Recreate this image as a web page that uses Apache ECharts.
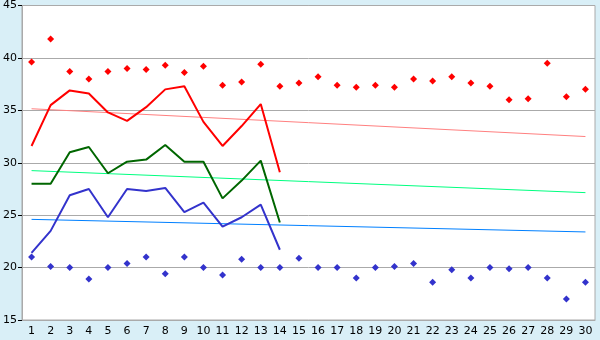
<!DOCTYPE html>
<html><head><meta charset="utf-8">
<script src="https://cdn.jsdelivr.net/npm/echarts@6/dist/echarts.min.js"></script>
<style>html,body{margin:0;padding:0;background:#d9eff7;}#c{width:600px;height:340px;}</style>
</head><body><div id="c"></div>
<script>
const days = ['1','2','3','4','5','6','7','8','9','10','11','12','13','14','15','16','17','18','19','20','21','22','23','24','25','26','27','28','29','30'];
const maxPoints = [39.6,41.8,38.7,38.0,38.7,39.0,38.9,39.3,38.6,39.2,37.4,37.7,39.4,37.3,37.6,38.2,37.4,37.2,37.4,37.2,38.0,37.8,38.2,37.6,37.3,36.0,36.1,39.5,36.3,37.0];
const minPoints = [21.0,20.1,20.0,18.9,20.0,20.4,21.0,19.4,21.0,20.0,19.3,20.8,20.0,20.0,20.9,20.0,20.0,19.0,20.0,20.1,20.4,18.6,19.8,19.0,20.0,19.9,20.0,19.0,17.0,18.6];
const redLine = [31.6,35.5,36.9,36.6,34.8,34.0,35.3,37.0,37.3,33.9,31.6,33.5,35.6,29.1];
const greenLine = [28.0,28.0,31.0,31.5,29.0,30.1,30.3,31.7,30.1,30.1,26.6,28.3,30.2,24.3];
const blueLine = [21.4,23.5,26.9,27.5,24.8,27.5,27.3,27.6,25.3,26.2,23.9,24.8,26.0,21.7];
const trendDays = ['1','30'];
const trendRed = [35.15,32.5];
const trendGreen = [29.25,27.15];
const trendBlue = [24.6,23.4];
const yTicks = {min:15,max:45,interval:5};

const pair = (xs, ys) => xs.map((x,i)=>[x, ys[i]]);
const chart = echarts.init(document.getElementById('c'));
const font = 'DejaVu Sans';
chart.setOption({
  animation:false,
  backgroundColor:'#d9eff7',
  grid:{left:20,right:5,top:5,bottom:20,show:true,backgroundColor:'#ffffff',borderColor:'#aaaaaa',borderWidth:1},
  xAxis:{type:'category',data:days,boundaryGap:true,
    axisLine:{lineStyle:{color:'#aaaaaa'}},
    axisTick:{alignWithLabel:true,length:5,lineStyle:{color:'#000000'}},
    axisLabel:{color:'#000000',fontFamily:font,fontSize:11,margin:6,interval:0},
    splitLine:{show:false}},
  yAxis:{type:'value',min:yTicks.min,max:yTicks.max,interval:yTicks.interval,
    axisLine:{show:true,lineStyle:{color:'#aaaaaa'}},
    axisTick:{show:true,length:4,lineStyle:{color:'#000000'}},
    axisLabel:{color:'#000000',fontFamily:font,fontSize:11,margin:5},
    splitLine:{lineStyle:{color:'#aaaaaa',width:1}}},
  series:[
    {type:'line',data:pair(trendDays,trendRed),symbol:'none',lineStyle:{color:'#ff8080',width:1},z:1},
    {type:'line',data:pair(trendDays,trendGreen),symbol:'none',lineStyle:{color:'#00ff80',width:1},z:1},
    {type:'line',data:pair(trendDays,trendBlue),symbol:'none',lineStyle:{color:'#0080ff',width:1},z:1},
    {type:'line',data:redLine,symbol:'none',lineStyle:{color:'#ff0000',width:2},z:3},
    {type:'line',data:greenLine,symbol:'none',lineStyle:{color:'#006600',width:2},z:3},
    {type:'line',data:blueLine,symbol:'none',lineStyle:{color:'#3333cc',width:2},z:3},
    {type:'scatter',data:maxPoints,symbol:'diamond',symbolSize:7,itemStyle:{color:'#ff0000',opacity:1},z:4},
    {type:'scatter',data:minPoints,symbol:'diamond',symbolSize:7,itemStyle:{color:'#3333cc',opacity:1},z:4}
  ]
});
</script></body></html>
